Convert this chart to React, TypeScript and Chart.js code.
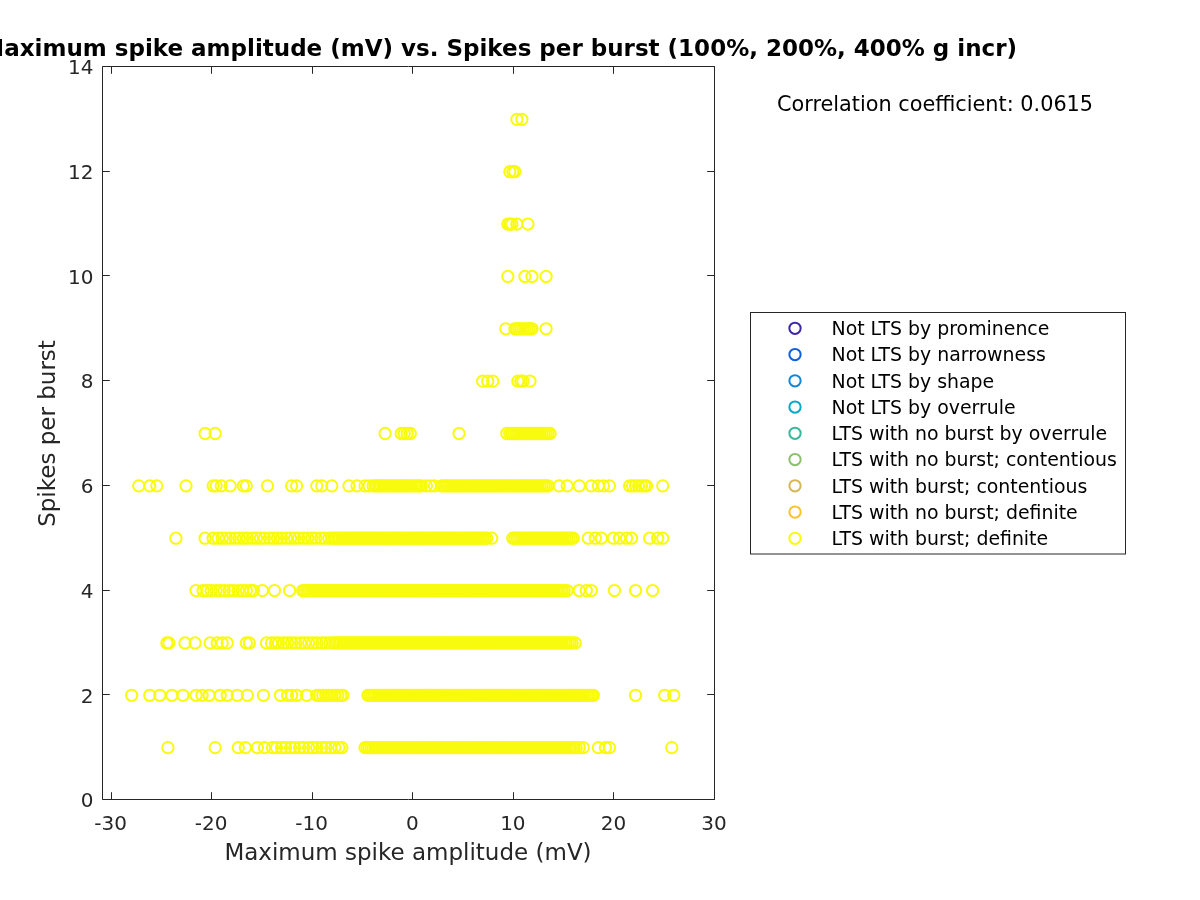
import React, { useEffect, useRef } from 'react';
import { Chart, registerables } from 'chart.js';

Chart.register(...registerables);

const chartTitle = 'Maximum spike amplitude (mV) vs. Spikes per burst (100%, 200%, 400% g incr)';
const xLabel = 'Maximum spike amplitude (mV)';
const yLabel = 'Spikes per burst';
const corrText = 'Correlation coefficient: 0.0615';

const categories = [
  'Not LTS by prominence',
  'Not LTS by narrowness',
  'Not LTS by shape',
  'Not LTS by overrule',
  'LTS with no burst by overrule',
  'LTS with no burst; contentious',
  'LTS with burst; contentious',
  'LTS with no burst; definite',
  'LTS with burst; definite',
];
const categoryColors = [
  '#3E26A8', '#0B5FE1', '#1586D6', '#07A8C8', '#35B89C',
  '#8CC06E', '#D6B752', '#FBC330', '#F9FB0E',
];

const xTicks = [-30, -20, -10, 0, 10, 20, 30];
const yTicks = [0, 2, 4, 6, 8, 10, 12, 14];

// x values (max spike amplitude, mV) of the points at each spikes-per-burst level
const amp1 = [
  -24.3, -19.6, -17.3, -16.6, -15.4, -14.7,
  -13.9, -13.5, -13.0, -12.6, -12.1, -11.7, -11.2, -10.8, -10.3, -9.9, -9.5, -9.0, -8.6, -8.1, -7.7, -7.3, -7.0,
  -4.7, -4.5, -4.3, -4.1, -3.9, -3.7, -3.5, -3.3, -3.1, -2.9, -2.7, -2.5, -2.3, -2.1, -1.9, -1.7, -1.5, -1.3,
  -1.1, -0.9, -0.7, -0.5, -0.3, -0.1, 0.1, 0.3, 0.5, 0.7, 0.9, 1.1, 1.3, 1.5, 1.7, 1.9, 2.1, 2.3, 2.5, 2.7,
  2.9, 3.1, 3.3, 3.5, 3.7, 3.9, 4.1, 4.3, 4.5, 4.7, 4.9, 5.1, 5.3, 5.5, 5.7, 5.9, 6.1, 6.3, 6.5, 6.7, 6.9,
  7.1, 7.3, 7.5, 7.7, 7.9, 8.1, 8.3, 8.5, 8.7, 8.9, 9.1, 9.3, 9.5, 9.7, 9.9, 10.1, 10.3, 10.5, 10.7, 10.9,
  11.1, 11.3, 11.5, 11.7, 11.9, 12.1, 12.3, 12.5, 12.7, 12.9, 13.1, 13.3, 13.5, 13.7, 13.9, 14.1, 14.3,
  14.5, 14.7, 14.9, 15.1, 15.3, 15.5, 15.7, 15.9, 16.1, 16.3, 16.6,
  17.0, 18.5, 19.2, 19.6, 25.8,
];
const amp2 = [
  -27.9, -26.1, -25.1, -23.9, -22.8, -21.5, -20.9, -20.2, -19.1, -18.4, -17.4, -16.4, -14.8, -13.1, -12.4,
  -12.0, -11.5, -10.5,
  -9.5, -9.2, -8.9, -8.6, -8.3, -8.0, -7.7, -7.4, -7.1, -6.9,
  -4.4, -4.2, -4.0, -3.8, -3.6, -3.4, -3.2, -3.0, -2.8, -2.6, -2.4, -2.2, -2.0, -1.8, -1.6, -1.4, -1.2,
  -1.0, -0.8, -0.6, -0.4, -0.2, 0.0, 0.2, 0.4, 0.6, 0.8, 1.0, 1.2, 1.4, 1.6, 1.8, 2.0, 2.2, 2.4, 2.6, 2.8,
  3.0, 3.2, 3.4, 3.6, 3.8, 4.0, 4.2, 4.4, 4.6, 4.8, 5.0, 5.2, 5.4, 5.6, 5.8, 6.0, 6.2, 6.4, 6.6, 6.8, 7.0,
  7.2, 7.4, 7.6, 7.8, 8.0, 8.2, 8.4, 8.6, 8.8, 9.0, 9.2, 9.4, 9.6, 9.8, 10.0, 10.2, 10.4, 10.6, 10.8,
  11.0, 11.2, 11.4, 11.6, 11.8, 12.0, 12.2, 12.4, 12.6, 12.8, 13.0, 13.2, 13.4, 13.6, 13.8, 14.0, 14.2,
  14.4, 14.6, 14.8, 15.0, 15.2, 15.4, 15.6, 15.8, 16.0, 16.2, 16.4, 16.6, 16.8, 17.0, 17.2, 17.4, 17.6,
  17.8, 18.0,
  22.2, 25.1, 26.0,
];
const amp3 = [
  -24.4, -24.2, -22.6, -21.6, -20.1, -19.4, -18.9, -18.4, -16.5, -16.2,
  -14.5, -14.0, -13.6, -13.3, -12.8, -12.4, -12.0, -11.6, -11.1, -10.7, -10.3, -9.9, -9.5, -9.0, -8.6, -8.2,
  -7.9, -7.7, -7.5, -7.3, -7.1, -6.9, -6.7, -6.5, -6.3, -6.1, -5.9, -5.7, -5.5, -5.3, -5.1, -4.9, -4.7,
  -4.5, -4.3, -4.1, -3.9, -3.7, -3.5, -3.3, -3.1, -2.9, -2.7, -2.5, -2.3, -2.1, -1.9, -1.7, -1.5, -1.3,
  -1.1, -0.9, -0.7, -0.5, -0.3, -0.1, 0.1, 0.3, 0.5, 0.7, 0.9, 1.1, 1.3, 1.5, 1.7, 1.9, 2.1, 2.3, 2.5, 2.7,
  2.9, 3.1, 3.3, 3.5, 3.7, 3.9, 4.1, 4.3, 4.5, 4.7, 4.9, 5.1, 5.3, 5.5, 5.7, 5.9, 6.1, 6.3, 6.5, 6.7, 6.9,
  7.1, 7.3, 7.5, 7.7, 7.9, 8.1, 8.3, 8.5, 8.7, 8.9, 9.1, 9.3, 9.5, 9.7, 9.9, 10.1, 10.3, 10.5, 10.7, 10.9,
  11.1, 11.3, 11.5, 11.7, 11.9, 12.1, 12.3, 12.5, 12.7, 12.9, 13.1, 13.3, 13.5, 13.7, 13.9, 14.1, 14.3,
  14.5, 14.7, 14.9, 15.1, 15.3, 15.5, 15.7, 15.9, 16.2,
];
const amp4 = [
  -21.5, -20.8, -20.4, -20.0, -19.5, -19.1, -18.7, -18.2, -17.8, -17.3, -16.9, -16.5, -16.1, -15.8,
  -14.9, -13.7, -12.2,
  -10.9, -10.7, -10.5, -10.3, -10.1, -9.9, -9.7, -9.5, -9.3, -9.1, -8.9, -8.7, -8.5, -8.3, -8.1, -7.9,
  -7.7, -7.5, -7.3, -7.1, -6.9, -6.7, -6.5, -6.3, -6.1, -5.9, -5.7, -5.5, -5.3, -5.1, -4.9, -4.7, -4.5,
  -4.3, -4.1, -3.9, -3.7, -3.5, -3.3, -3.1, -2.9, -2.7, -2.5, -2.3, -2.1, -1.9, -1.7, -1.5, -1.3, -1.1,
  -0.9, -0.7, -0.5, -0.3, -0.1, 0.1, 0.3, 0.5, 0.7, 0.9, 1.1, 1.3, 1.5, 1.7, 1.9, 2.1, 2.3, 2.5, 2.7, 2.9,
  3.1, 3.3, 3.5, 3.7, 3.9, 4.1, 4.3, 4.5, 4.7, 4.9, 5.1, 5.3, 5.5, 5.7, 5.9, 6.1, 6.3, 6.5, 6.7, 6.9, 7.1,
  7.3, 7.5, 7.7, 7.9, 8.1, 8.3, 8.5, 8.7, 8.9, 9.1, 9.3, 9.5, 9.7, 9.9, 10.1, 10.3, 10.5, 10.7, 10.9, 11.1,
  11.3, 11.5, 11.7, 11.9, 12.1, 12.3, 12.5, 12.7, 12.9, 13.1, 13.3, 13.5, 13.7, 13.9, 14.1, 14.3, 14.5,
  14.7, 14.9, 15.1, 15.4,
  16.6, 17.3, 17.8, 20.1, 22.2, 23.9,
];
const amp5 = [
  -23.5, -20.6, -19.8, -19.3,
  -18.9, -18.5, -18.1, -17.6, -17.2, -16.8, -16.4, -15.9, -15.5, -15.1, -14.7, -14.2, -13.8, -13.4, -13.0,
  -12.5, -12.1, -11.7, -11.3, -10.8, -10.4, -10.0, -9.6, -9.1, -8.7, -8.3,
  -8.0, -7.8, -7.6, -7.4, -7.2, -7.0, -6.8, -6.6, -6.4, -6.2, -6.0, -5.8, -5.6, -5.4, -5.2, -5.0, -4.8,
  -4.6, -4.4, -4.2, -4.0, -3.8, -3.6, -3.4, -3.2, -3.0, -2.8, -2.6, -2.4, -2.2, -2.0, -1.8, -1.6, -1.4,
  -1.2, -1.0, -0.8, -0.6, -0.4, -0.2, 0.0, 0.2, 0.4, 0.6, 0.8, 1.0, 1.2, 1.4, 1.6, 1.8, 2.0, 2.2, 2.4, 2.6,
  2.8, 3.0, 3.2, 3.4, 3.6, 3.8, 4.0, 4.2, 4.4, 4.6, 4.8, 5.0, 5.2, 5.4, 5.6, 5.8, 6.0, 6.2, 6.4, 6.6, 6.8,
  7.0, 7.2, 7.4, 7.9,
  10.0, 10.2, 10.4, 10.6, 10.8, 11.0, 11.2, 11.4, 11.6, 11.8, 12.0, 12.2, 12.4, 12.6, 12.8, 13.0, 13.2,
  13.4, 13.6, 13.8, 14.0, 14.2, 14.4, 14.6, 14.8, 15.0, 15.2, 15.4, 15.6, 15.8, 16.0,
  17.5, 18.2, 18.8, 20.0, 20.6, 21.3, 21.8, 23.6, 24.4, 24.9,
];
const amp6 = [
  -27.2, -26.1, -25.4, -22.5, -19.8, -19.5, -19.0, -18.1, -16.8, -16.5, -14.4, -12.0, -11.5, -9.5, -9.0,
  -8.0, -6.3, -5.5, -4.7, -4.3,
  -3.9, -3.7, -3.5, -3.3, -3.1, -2.9, -2.7, -2.5, -2.3, -2.1, -1.9, -1.7, -1.5, -1.3, -1.1, -0.9, -0.7,
  -0.5, -0.3, -0.1, 0.1, 0.3, 0.5, 0.7, 0.9,
  1.4, 1.8, 2.2,
  2.9, 3.1, 3.3, 3.5, 3.7, 3.9, 4.1, 4.3, 4.5, 4.7, 4.9, 5.1, 5.3, 5.5, 5.7, 5.9, 6.1, 6.3, 6.5, 6.7, 6.9,
  7.1, 7.3, 7.5, 7.7, 7.9, 8.1, 8.3, 8.5, 8.7, 8.9, 9.1, 9.3, 9.5, 9.7, 9.9, 10.1, 10.3, 10.5, 10.7, 10.9,
  11.1, 11.3, 11.5, 11.7, 11.9, 12.1, 12.3, 12.5, 12.7, 12.9, 13.1, 13.3, 13.5,
  14.6, 15.4, 16.6, 17.8, 18.5, 19.0, 19.6, 21.6, 21.9, 22.2, 22.5, 22.8, 23.1, 23.3, 24.9,
];
const amp7 = [
  -20.6, -19.6, -2.7, -1.1, -0.8, -0.5, -0.2, 4.65,
  9.4, 9.7, 9.9, 10.1, 10.3, 10.5, 10.7, 10.9, 11.1, 11.3, 11.5, 11.7, 11.9, 12.1, 12.3, 12.5, 12.7, 12.9,
  13.1, 13.3, 13.5, 13.7,
];
const amp8 = [7.0, 7.5, 8.0, 10.5, 10.8, 11.0, 11.7];
const amp9 = [9.3, 10.2, 10.4, 10.6, 10.8, 11.0, 11.2, 11.4, 11.6, 11.8, 11.9, 13.3];
const amp10 = [9.5, 11.2, 11.9, 13.3];
const amp11 = [9.5, 9.7, 9.9, 10.4, 11.5];
const amp12 = [9.7, 10.0, 10.2];
const amp13 = [10.4, 10.9];

const spikesPerBurst = [1, 2, 3, 4, 5, 6, 7, 8, 9, 10, 11, 12, 13];
const ampRows = [amp1, amp2, amp3, amp4, amp5, amp6, amp7, amp8, amp9, amp10, amp11, amp12, amp13];

const FONT = '"DejaVu Sans", "Liberation Sans", sans-serif';
const AXIS_COLOR = '#262626';
const MARKER_R = 5.65;
const MARKER_W = 2.0;

const framePlugin = {
  id: 'matlabFrame',
  afterDraw(chart: any) {
    const ctx: CanvasRenderingContext2D = chart.ctx;
    const a = chart.chartArea;
    const xs = chart.scales.x;
    const ys = chart.scales.y;
    const L = Math.round(a.left) + 0.5;
    const R = Math.round(a.right) + 0.5;
    const T = Math.round(a.top) - 0.5;
    const B = Math.round(a.bottom) - 0.5;
    const tl = 7.3;
    ctx.save();
    ctx.strokeStyle = AXIS_COLOR;
    ctx.lineWidth = 1;
    ctx.beginPath();
    ctx.rect(L, T, R - L, B - T);
    xs.ticks.forEach((t: any) => {
      const px = Math.round(xs.getPixelForValue(t.value)) + 0.5;
      ctx.moveTo(px, B);
      ctx.lineTo(px, B - tl);
      ctx.moveTo(px, T);
      ctx.lineTo(px, T + tl);
    });
    ys.ticks.forEach((t: any) => {
      const py = Math.round(ys.getPixelForValue(t.value)) - 0.5;
      ctx.moveTo(L, py);
      ctx.lineTo(L + tl, py);
      ctx.moveTo(R, py);
      ctx.lineTo(R - tl, py);
    });
    ctx.stroke();

    // tick labels
    ctx.fillStyle = AXIS_COLOR;
    ctx.font = `20px ${FONT}`;
    ctx.textBaseline = 'alphabetic';
    ctx.textAlign = 'center';
    xs.ticks.forEach((t: any) => {
      ctx.fillText(String(t.value), xs.getPixelForValue(t.value), 830);
    });
    ctx.textAlign = 'right';
    ys.ticks.forEach((t: any) => {
      ctx.fillText(String(t.value), 93.5, ys.getPixelForValue(t.value) + 7.3);
    });

    // axis labels
    ctx.font = `23px ${FONT}`;
    ctx.textAlign = 'center';
    ctx.fillText(xLabel, (a.left + a.right) / 2, 860);
    ctx.save();
    ctx.translate(55, (a.top + a.bottom) / 2);
    ctx.rotate(-Math.PI / 2);
    ctx.fillText(yLabel, 0, 0);
    ctx.restore();

    // title
    ctx.fillStyle = '#000';
    ctx.font = `bold 23px ${FONT}`;
    ctx.textAlign = 'right';
    ctx.fillText(chartTitle, 1017, 56);

    // correlation text
    ctx.font = `20.8px ${FONT}`;
    ctx.textAlign = 'left';
    ctx.fillText(corrText, 777, 110.5);

    // legend
    ctx.fillStyle = '#fff';
    ctx.fillRect(750.5, 312.5, 375, 241.5);
    ctx.strokeStyle = AXIS_COLOR;
    ctx.lineWidth = 1;
    ctx.strokeRect(750.5, 312.5, 375, 241.5);
    ctx.font = `18.9px ${FONT}`;
    ctx.textAlign = 'left';
    categories.forEach((name, i) => {
      const y = 328.3 + i * 26.25;
      ctx.beginPath();
      ctx.arc(795, y, MARKER_R, 0, Math.PI * 2);
      ctx.strokeStyle = categoryColors[i];
      ctx.lineWidth = MARKER_W;
      ctx.stroke();
      ctx.fillStyle = '#000';
      ctx.fillText(name, 831.5, y + 6.85);
    });
    ctx.restore();
  },
};

export default function App() {
  const ref = useRef<HTMLCanvasElement>(null);
  useEffect(() => {
    const burstPoints: { x: number; y: number }[] = [];
    ampRows.forEach((row, i) => row.forEach((x) => burstPoints.push({ x, y: spikesPerBurst[i] })));
    const datasets = categories.map((name, i) => ({
      label: name,
      data: i === categories.length - 1 ? burstPoints : [],
      showLine: false,
      pointRadius: MARKER_R,
      pointHoverRadius: MARKER_R,
      pointBorderWidth: MARKER_W,
      pointBorderColor: categoryColors[i],
      pointBackgroundColor: 'rgba(0,0,0,0)',
    }));
    const chart = new Chart(ref.current as HTMLCanvasElement, {
      type: 'scatter',
      data: { datasets },
      options: {
        responsive: false,
        animation: false,
        events: [],
        layout: { padding: { top: 67, right: 486, left: 0, bottom: 0 } },
        plugins: {
          legend: { display: false },
          title: { display: false },
          tooltip: { enabled: false },
        },
        scales: {
          x: {
            type: 'linear',
            min: -30.85,
            max: 30,
            afterBuildTicks: (s: any) => {
              s.ticks = xTicks.map((v) => ({ value: v }));
            },
            afterFit: (s: any) => {
              s.height = 100;
            },
            grid: { display: false },
            border: { display: false },
            ticks: { display: false },
          },
          y: {
            type: 'linear',
            min: 0,
            max: 14,
            afterBuildTicks: (s: any) => {
              s.ticks = yTicks.map((v) => ({ value: v }));
            },
            afterFit: (s: any) => {
              s.width = 102;
            },
            grid: { display: false },
            border: { display: false },
            ticks: { display: false },
          },
        },
      } as any,
      plugins: [framePlugin],
    });
    return () => chart.destroy();
  }, []);
  return (
    <div style={{ position: 'absolute', left: 0, top: 0, width: 1200, height: 900, background: '#fff' }}>
      <canvas ref={ref} width={1200} height={900} style={{ display: 'block', width: 1200, height: 900 }} />
    </div>
  );
}
